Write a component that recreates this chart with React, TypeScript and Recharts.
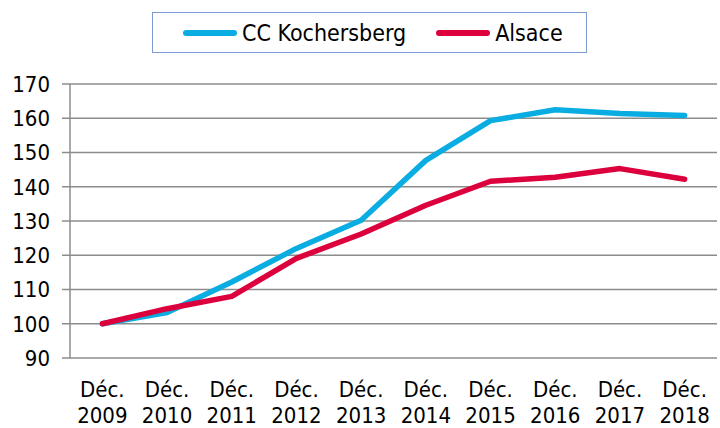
import { CartesianGrid, Line, LineChart, XAxis, YAxis } from "recharts";

const categories = [
    "Déc. 2009",
    "Déc. 2010",
    "Déc. 2011",
    "Déc. 2012",
    "Déc. 2013",
    "Déc. 2014",
    "Déc. 2015",
    "Déc. 2016",
    "Déc. 2017",
    "Déc. 2018",
];
const kochersberg = [100, 103.3, 112.2, 122, 130.2, 147.7, 159.3, 162.5, 161.4, 160.8];
const alsace = [100, 104.4, 108, 119.1, 126.2, 134.6, 141.6, 142.8, 145.3, 142.2];
const yTicks = [90, 100, 110, 120, 130, 140, 150, 160, 170];

const seriesNames = ["CC Kochersberg", "Alsace"];
const seriesColors = ["#0aade2", "#dc003c"];

const data = categories.map((label, i) => ({
    label,
    kochersberg: kochersberg[i],
    alsace: alsace[i],
}));
const edgeTicks = [...categories.map((_, i) => i), categories.length];

const FONT = '"DejaVu Sans Condensed", "DejaVu Sans", sans-serif';
const GRID = "#8c8c8c";

function CategoryTick({ x, y, payload }: any) {
    const [month, year] = String(payload.value).split(" ");
    return (
        <text x={x} y={y} textAnchor="middle" fontFamily={FONT} fontSize={22} fill="#000">
            <tspan x={x} dy={39}>{month}</tspan>
            <tspan x={x} dy={26}>{year}</tspan>
        </text>
    );
}

function NoTick() {
    return <g />;
}

function LegendBox() {
    return (
        <div
            style={{
                position: "absolute",
                left: 152,
                top: 12,
                width: 403,
                height: 39,
                border: "1.5px solid #7b9bd2",
                display: "flex",
                alignItems: "center",
                paddingLeft: 30,
                boxSizing: "content-box",
                fontFamily: FONT,
                fontSize: 23,
                color: "#000",
                whiteSpace: "nowrap",
                overflow: "visible",
            }}
        >
            {seriesNames.map((name, i) => (
                <div key={name} style={{ display: "flex", alignItems: "center", marginRight: 30, flexShrink: 0 }}>
                    <span
                        style={{
                            display: "inline-block",
                            width: 54,
                            height: 6,
                            borderRadius: 3,
                            background: seriesColors[i],
                            marginRight: 5,
                        }}
                    />
                    <span>{name}</span>
                </div>
            ))}
        </div>
    );
}

export default function App() {
    return (
        <div style={{ position: "absolute", left: 0, top: 0, width: 720, height: 428, background: "#fff" }}>
            <LineChart width={720} height={428} data={data} margin={{ top: 84, right: 3, left: 0, bottom: 0 }}>
                <CartesianGrid xAxisId="cat" vertical={false} stroke={GRID} strokeWidth={1.5} />
                <XAxis
                    xAxisId="edges"
                    type="number"
                    domain={[0, categories.length]}
                    allowDataOverflow
                    ticks={edgeTicks}
                    interval={0}
                    height={0}
                    tick={<NoTick />}
                    tickSize={8}
                    axisLine={{ stroke: GRID, strokeWidth: 1.5 }}
                    tickLine={{ stroke: GRID, strokeWidth: 1.5 }}
                />
                <XAxis
                    xAxisId="cat"
                    dataKey="label"
                    scale="band"
                    interval={0}
                    height={70}
                    axisLine={false}
                    tickLine={false}
                    tickSize={0}
                    tickMargin={0}
                    tick={<CategoryTick />}
                />
                <YAxis
                    domain={[90, 170]}
                    ticks={yTicks}
                    interval={0}
                    width={70}
                    tickSize={8}
                    tickMargin={12}
                    axisLine={{ stroke: GRID, strokeWidth: 1.5 }}
                    tickLine={{ stroke: GRID, strokeWidth: 1.5 }}
                    tick={{ fill: "#000", fontSize: 22, fontFamily: FONT }}
                />
                <Line
                    xAxisId="cat"
                    dataKey="kochersberg"
                    name={seriesNames[0]}
                    stroke={seriesColors[0]}
                    strokeWidth={5.5}
                    strokeLinecap="round"
                    strokeLinejoin="round"
                    dot={false}
                    isAnimationActive={false}
                />
                <Line
                    xAxisId="cat"
                    dataKey="alsace"
                    name={seriesNames[1]}
                    stroke={seriesColors[1]}
                    strokeWidth={5.5}
                    strokeLinecap="round"
                    strokeLinejoin="round"
                    dot={false}
                    isAnimationActive={false}
                />
            </LineChart>
            <LegendBox />
        </div>
    );
}
